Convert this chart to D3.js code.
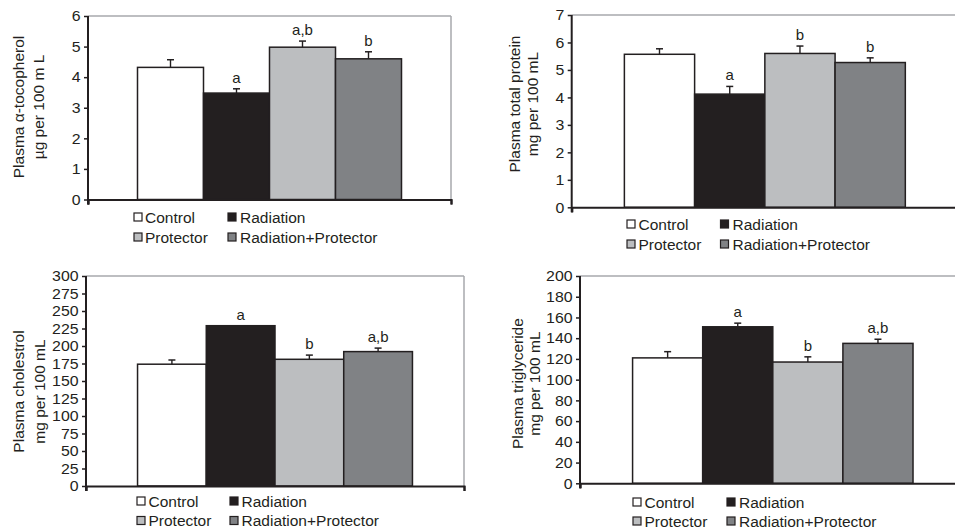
<!DOCTYPE html>
<html>
<head>
<meta charset="utf-8">
<script src="https://cdn.jsdelivr.net/npm/d3@7"></script>
<style>
  html, body { margin: 0; padding: 0; background: #fff; }
  svg { display: block; font-family: "Liberation Sans", Arial, sans-serif; }
</style>
</head>
<body>
<svg id="chart" width="955" height="528"></svg>
<script>
// ---------- data ----------
const categories = ["Control", "Radiation", "Protector", "Radiation+Protector"];

const tocopherolValues = [4.32, 3.48, 4.98, 4.60];
const tocopherolErrors = [0.25, 0.14, 0.20, 0.23];
const tocopherolLetters = ["", "a", "a,b", "b"];
const tocopherolTicks = [0, 1, 2, 3, 4, 5, 6];

const proteinValues = [5.57, 4.12, 5.60, 5.27];
const proteinErrors = [0.20, 0.28, 0.27, 0.17];
const proteinLetters = ["", "a", "b", "b"];
const proteinTicks = [0, 1, 2, 3, 4, 5, 6, 7];

const cholesterolValues = [174, 229, 181, 192];
const cholesterolErrors = [6, 0, 6, 5];
const cholesterolLetters = ["", "a", "b", "a,b"];
const cholesterolTicks = [0, 25, 50, 75, 100, 125, 150, 175, 200, 225, 250, 275, 300];

const triglycerideValues = [121, 151, 117, 135];
const triglycerideErrors = [6, 3.5, 5, 4];
const triglycerideLetters = ["", "a", "b", "a,b"];
const triglycerideTicks = [0, 20, 40, 60, 80, 100, 120, 140, 160, 180, 200];

const colors = ["#ffffff", "#231f20", "#bcbec0", "#808285"];

// ---------- layout ----------
const panels = [
  { values: tocopherolValues, errors: tocopherolErrors, letters: tocopherolLetters, ticks: tocopherolTicks,
    title: ["Plasma \u03b1-tocopherol", "\u00b5g per 100 m L"],
    left: 88, right: 451, top: 16, bottom: 199.5, showRight: true,
    titleX: [23.5, 43.5], titleY: 107,
    legSq: [134, 228], legTx: [145, 240], legRows: [217, 237] },
  { values: proteinValues, errors: proteinErrors, letters: proteinLetters, ticks: proteinTicks,
    title: ["Plasma total protein", "mg per 100 mL"],
    left: 571.7, right: 958, top: 15, bottom: 207.3, showRight: false,
    titleX: [520, 537.5], titleY: 104,
    legSq: [627, 720.5], legTx: [638.5, 732.5], legRows: [224, 244] },
  { values: cholesterolValues, errors: cholesterolErrors, letters: cholesterolLetters, ticks: cholesterolTicks,
    title: ["Plasma cholestrol", "mg per 100 mL"],
    left: 86, right: 464, top: 276, bottom: 486, showRight: true,
    titleX: [24, 45], titleY: 391.5,
    legSq: [137, 230], legTx: [148.5, 241.5], legRows: [501, 520.5] },
  { values: triglycerideValues, errors: triglycerideErrors, letters: triglycerideLetters, ticks: triglycerideTicks,
    title: ["Plasma triglyceride", "mg per 100 mL"],
    left: 580, right: 965.6, top: 276, bottom: 483.3, showRight: false,
    titleX: [523.3, 540], titleY: 383.6,
    legSq: [633, 727], legTx: [644.5, 739], legRows: [502, 521] }
];

const svg = d3.select("#chart");
const ink = "#231f20";
const frame = "#a7a9ac";

panels.forEach(p => {
  const g = svg.append("g");
  const yMax = p.ticks[p.ticks.length - 1];
  const y = d3.scaleLinear().domain([0, yMax]).range([p.bottom, p.top]);
  const x = d3.scaleBand().domain(categories).range([p.left, p.right])
    .paddingInner(0).paddingOuter(0.75);

  // frame (top & right)
  g.append("line").attr("x1", p.left).attr("x2", p.right).attr("y1", p.top).attr("y2", p.top)
    .attr("stroke", frame).attr("stroke-width", 1.5);
  if (p.showRight) {
    g.append("line").attr("x1", p.right).attr("x2", p.right).attr("y1", p.top).attr("y2", p.bottom)
      .attr("stroke", frame).attr("stroke-width", 1.5);
  }

  // bars
  g.selectAll("rect.bar").data(categories).enter().append("rect")
    .attr("class", "bar")
    .attr("x", d => x(d))
    .attr("width", x.bandwidth())
    .attr("y", (d, i) => y(p.values[i]))
    .attr("height", (d, i) => p.bottom - y(p.values[i]))
    .attr("fill", (d, i) => colors[i])
    .attr("stroke", ink).attr("stroke-width", 1.5);

  // error bars
  categories.forEach((c, i) => {
    if (p.errors[i] <= 0) return;
    const cx = x(c) + x.bandwidth() / 2;
    const y0 = y(p.values[i]);
    const y1 = y(p.values[i] + p.errors[i]);
    g.append("line").attr("x1", cx).attr("x2", cx).attr("y1", y0).attr("y2", y1)
      .attr("stroke", ink).attr("stroke-width", 1.4);
    g.append("line").attr("x1", cx - 3.5).attr("x2", cx + 3.5).attr("y1", y1).attr("y2", y1)
      .attr("stroke", ink).attr("stroke-width", 1.5);
  });

  // significance letters
  g.selectAll("text.sig").data(categories).enter().append("text")
    .attr("class", "sig")
    .attr("x", d => x(d) + x.bandwidth() / 2)
    .attr("y", (d, i) => y(p.values[i] + p.errors[i]) - 6)
    .attr("text-anchor", "middle")
    .attr("font-size", 15)
    .attr("fill", ink)
    .text((d, i) => p.letters[i]);

  // y axis
  const yAxis = d3.axisLeft(y).tickValues(p.ticks).tickSize(4).tickPadding(3).tickFormat(d3.format("d"));
  const ya = g.append("g").attr("transform", `translate(${p.left},0)`).call(yAxis);
  ya.select(".domain").attr("stroke", ink).attr("stroke-width", 2).attr("d", `M0,${p.top}V${p.bottom + 5}`);
  ya.selectAll(".tick line").attr("stroke", ink).attr("stroke-width", 1.5);
  ya.selectAll(".tick text").attr("font-size", 15).attr("fill", ink)
    .attr("font-family", "\"Liberation Sans\", Arial, sans-serif")
    .attr("transform", "scale(1.06,1)");

  // x axis (baseline with end ticks)
  const xl = d3.scaleLinear().domain([0, 1]).range([p.left, p.right]);
  const xAxis = d3.axisBottom(xl).tickValues([0, 1]).tickSize(5).tickFormat("");
  const xa = g.append("g").attr("transform", `translate(0,${p.bottom})`).call(xAxis);
  xa.select(".domain").attr("stroke", ink).attr("stroke-width", 2);
  xa.selectAll(".tick line").attr("stroke", ink).attr("stroke-width", 2);

  // y title
  p.title.forEach((t, k) => {
    g.append("text")
      .attr("transform", `translate(${p.titleX[k]},${p.titleY}) rotate(-90)`)
      .attr("text-anchor", "middle")
      .attr("font-size", 15.5)
      .attr("fill", ink)
      .text(t);
  });

  // legend
  categories.forEach((c, i) => {
    const col = i % 2, row = Math.floor(i / 2);
    const cy = p.legRows[row];
    g.append("rect")
      .attr("x", p.legSq[col]).attr("y", cy - 4)
      .attr("width", 8).attr("height", 8)
      .attr("fill", colors[i]).attr("stroke", ink).attr("stroke-width", 1.2);
    g.append("text")
      .attr("x", p.legTx[col]).attr("y", cy)
      .attr("dy", "0.36em")
      .attr("font-size", 15.5)
      .attr("fill", ink)
      .text(c);
  });
});
</script>
</body>
</html>
